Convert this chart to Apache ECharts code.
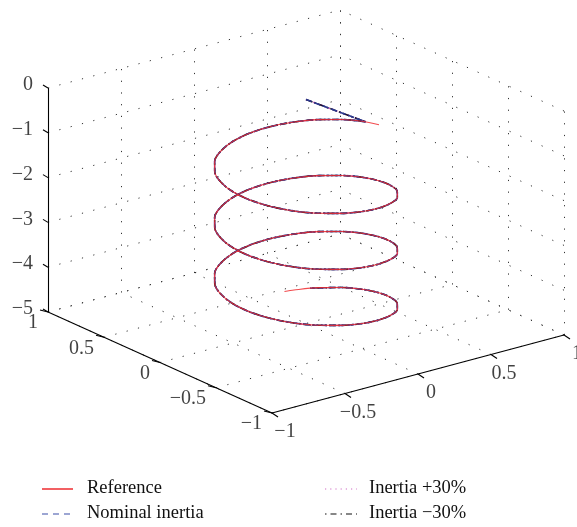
<!DOCTYPE html>
<html>
<head>
<meta charset="utf-8">
<script src="https://cdn.jsdelivr.net/npm/echarts@6/dist/echarts.min.js"></script>
<style>
html,body{margin:0;padding:0;background:#fff;}
#chart{width:577px;height:527px;}
</style>
</head>
<body>
<div id="chart"></div>
<script>
// ---- data ----
const xTicks = [-1, -0.5, 0, 0.5, 1];
const yTicks = [-1, -0.5, 0, 0.5, 1];
const zTicks = [0, -1, -2, -3, -4, -5];
const xTickLabels = ['\u22121', '\u22120.5', '0', '0.5', '1'];
const yTickLabels = ['\u22121', '\u22120.5', '0', '0.5', '1'];
const zTickLabels = ['0', '\u22121', '\u22122', '\u22123', '\u22124', '\u22125'];

// Reference helix samples (15 degree steps)
const refX = [
  0.5,0.483,0.433,0.354,0.25,0.129,0,-0.129,-0.25,-0.354,-0.433,-0.483,-0.5,-0.483,-0.433,-0.354,-0.25,-0.129,0,0.129,0.25,0.354,0.433,0.483,
  0.5,0.483,0.433,0.354,0.25,0.129,0,-0.129,-0.25,-0.354,-0.433,-0.483,-0.5,-0.483,-0.433,-0.354,-0.25,-0.129,0,0.129,0.25,0.354,0.433,0.483,
  0.5,0.483,0.433,0.354,0.25,0.129,0,-0.129,-0.25,-0.354,-0.433,-0.483,-0.5,-0.483,-0.433,-0.354,-0.25,-0.129,0,0.129,0.25,0.354,0.433,0.483,
  0.5,0.483,0.433,0.354,0.25,0.203];
const refY = [
  0,0.129,0.25,0.354,0.433,0.483,0.5,0.483,0.433,0.354,0.25,0.129,0,-0.129,-0.25,-0.354,-0.433,-0.483,-0.5,-0.483,-0.433,-0.354,-0.25,-0.129,
  0,0.129,0.25,0.354,0.433,0.483,0.5,0.483,0.433,0.354,0.25,0.129,0,-0.129,-0.25,-0.354,-0.433,-0.483,-0.5,-0.483,-0.433,-0.354,-0.25,-0.129,
  0,0.129,0.25,0.354,0.433,0.483,0.5,0.483,0.433,0.354,0.25,0.129,0,-0.129,-0.25,-0.354,-0.433,-0.483,-0.5,-0.483,-0.433,-0.354,-0.25,-0.129,
  0,0.129,0.25,0.354,0.433,0.457];
const refZ = [
  -1.000,-1.052,-1.104,-1.156,-1.208,-1.260,-1.313,-1.365,-1.417,-1.469,-1.521,-1.573,
  -1.625,-1.677,-1.729,-1.781,-1.833,-1.885,-1.938,-1.990,-2.042,-2.094,-2.146,-2.198,
  -2.250,-2.302,-2.354,-2.406,-2.458,-2.510,-2.563,-2.615,-2.667,-2.719,-2.771,-2.823,
  -2.875,-2.927,-2.979,-3.031,-3.083,-3.135,-3.188,-3.240,-3.292,-3.344,-3.396,-3.448,
  -3.500,-3.552,-3.604,-3.656,-3.708,-3.760,-3.813,-3.865,-3.917,-3.969,-4.021,-4.073,
  -4.125,-4.177,-4.229,-4.281,-4.333,-4.385,-4.438,-4.490,-4.542,-4.594,-4.646,-4.698,
  -4.750,-4.802,-4.854,-4.906,-4.958,-4.979];

// Tracked trajectories (the three inertia cases overlap in the picture)
const trkX = [
  0,0.489,0.433,0.354,0.25,0.129,0,-0.129,-0.25,-0.354,-0.433,-0.483,-0.5,-0.483,-0.433,-0.354,-0.25,-0.129,0,0.129,0.25,0.354,0.433,0.483,
  0.5,0.483,0.433,0.354,0.25,0.129,0,-0.129,-0.25,-0.354,-0.433,-0.483,-0.5,-0.483,-0.433,-0.354,-0.25,-0.129,0,0.129,0.25,0.354,0.433,0.483,
  0.5,0.483,0.433,0.354,0.25,0.129,0,-0.129,-0.25,-0.354,-0.433,-0.483,-0.5,-0.483,-0.433,-0.354,-0.25,-0.129,0,0.129,0.25,0.354,0.433,0.483,
  0.5,0.483,0.433,0.321];
const trkY = [
  0,0.104,0.25,0.354,0.433,0.483,0.5,0.483,0.433,0.354,0.25,0.129,0,-0.129,-0.25,-0.354,-0.433,-0.483,-0.5,-0.483,-0.433,-0.354,-0.25,-0.129,
  0,0.129,0.25,0.354,0.433,0.483,0.5,0.483,0.433,0.354,0.25,0.129,0,-0.129,-0.25,-0.354,-0.433,-0.483,-0.5,-0.483,-0.433,-0.354,-0.25,-0.129,
  0,0.129,0.25,0.354,0.433,0.483,0.5,0.483,0.433,0.354,0.25,0.129,0,-0.129,-0.25,-0.354,-0.433,-0.483,-0.5,-0.483,-0.433,-0.354,-0.25,-0.129,
  0,0.129,0.25,0.383];
const trkZ = [
  0,-1.042,-1.104,-1.156,-1.208,-1.260,-1.313,-1.365,-1.417,-1.469,-1.521,-1.573,
  -1.625,-1.677,-1.729,-1.781,-1.833,-1.885,-1.938,-1.990,-2.042,-2.094,-2.146,-2.198,
  -2.250,-2.302,-2.354,-2.406,-2.458,-2.510,-2.563,-2.615,-2.667,-2.719,-2.771,-2.823,
  -2.875,-2.927,-2.979,-3.031,-3.083,-3.135,-3.188,-3.240,-3.292,-3.344,-3.396,-3.448,
  -3.500,-3.552,-3.604,-3.656,-3.708,-3.760,-3.813,-3.865,-3.917,-3.969,-4.021,-4.073,
  -4.125,-4.177,-4.229,-4.281,-4.333,-4.385,-4.438,-4.490,-4.542,-4.594,-4.646,-4.698,
  -4.750,-4.802,-4.854,-4.924];

const legendNames = ['Reference', 'Nominal inertia', 'Inertia +30%', 'Inertia \u221230%'];

// ---- projection (orthographic, MATLAB default 3-D view) ----
const O = [272, 413];           // screen position of (-1,-1,-5)
const EX = [146, -39];          // per unit x
const EY = [-112, -50.5];       // per unit y
const EZ = [0, -44.8];          // per unit z
function proj(x, y, z) {
  return [O[0] + EX[0]*(x+1) + EY[0]*(y+1) + EZ[0]*(z+5),
          O[1] + EX[1]*(x+1) + EY[1]*(y+1) + EZ[1]*(z+5)];
}
function seg(a, b) { return { coords: [proj(a[0],a[1],a[2]), proj(b[0],b[1],b[2])] }; }

// dotted grid lines on the three back planes
const gridSegs = [];
xTicks.forEach(v => { gridSegs.push(seg([v,-1,-5],[v,1,-5])); gridSegs.push(seg([v,1,-5],[v,1,0])); });
yTicks.forEach(v => { gridSegs.push(seg([-1,v,-5],[1,v,-5])); gridSegs.push(seg([1,v,-5],[1,v,0])); });
zTicks.forEach(v => { gridSegs.push(seg([-1,1,v],[1,1,v])); gridSegs.push(seg([1,-1,v],[1,1,v])); });

// solid axes
const axisSegs = [
  seg([-1,1,-5],[-1,1,0]),
  seg([-1,-1,-5],[-1,1,-5]),
  seg([-1,-1,-5],[1,-1,-5])
];
// tick marks
const tickSegs = [];
zTicks.forEach(v => { const p = proj(-1,1,v); tickSegs.push({coords:[p,[p[0]-5,p[1]-3]]}); });
yTicks.forEach(v => { const p = proj(-1,v,-5); tickSegs.push({coords:[p,[p[0]-8,p[1]-2]]}); });
xTicks.forEach(v => { const p = proj(v,-1,-5); tickSegs.push({coords:[p,[p[0]+6,p[1]+4]]}); });

const FONT = "'Liberation Serif','DejaVu Serif',serif";
const zLab = zTicks.map((v,i) => { const p = proj(-1,1,v); return [p[0]-15, p[1]-3, zTickLabels[i]]; });
const yLab = yTicks.map((v,i) => { const p = proj(-1,v,-5); return [p[0]-10, p[1]+11, yTickLabels[i]]; });
const xLab = xTicks.map((v,i) => { const p = proj(v,-1,-5); return [p[0]+13, p[1]+19, xTickLabels[i]]; });

function labelSeries(data, align) {
  return {
    type: 'scatter', data: data, symbolSize: 0, silent: true,
    label: { show: true, position: [0,0], formatter: p => p.value[2], align: align,
             verticalAlign: 'middle', fontFamily: FONT, fontSize: 20, color: '#111' }
  };
}
function traj(X, Y, Z) { return X.map((x,i) => proj(x, Y[i], Z[i])); }

const chart = echarts.init(document.getElementById('chart'), null, {renderer:'canvas'});
chart.setOption({
  animation: false,
  backgroundColor: '#ffffff',
  grid: { left: 0, right: 0, top: 0, bottom: 0 },
  xAxis: { type: 'value', min: 0, max: 577, show: false },
  yAxis: { type: 'value', min: 0, max: 527, inverse: true, show: false },
  series: [
    { type: 'lines', coordinateSystem: 'cartesian2d', silent: true, data: gridSegs,
      lineStyle: { color: '#333', width: 1, type: [1.2, 10.5], opacity: 1 } },
    { type: 'lines', coordinateSystem: 'cartesian2d', silent: true, data: axisSegs.concat(tickSegs),
      lineStyle: { color: '#000', width: 1.1, type: 'solid', opacity: 1 } },
    labelSeries(zLab, 'right'),
    labelSeries(yLab, 'right'),
    labelSeries(xLab, 'center'),
    { name: legendNames[2], type: 'line', data: traj(trkX, trkY, trkZ), symbol: 'none', smooth: 0.3,
      lineStyle: { color: '#b43aa8', width: 1.6, type: [1.5, 2.5] } },
    { name: legendNames[3], type: 'line', data: traj(trkX, trkY, trkZ), symbol: 'none', smooth: 0.3,
      lineStyle: { color: '#1a1030', width: 1.6, type: [7, 2, 2, 2] } },
    { name: legendNames[1], type: 'line', data: traj(trkX, trkY, trkZ), symbol: 'none', smooth: 0.3,
      lineStyle: { color: '#2b3a8f', width: 1.6, type: [6, 3] } },
    { name: legendNames[0], type: 'line', data: traj(refX, refY, refZ), symbol: 'none', smooth: 0.3,
      lineStyle: { color: '#ee2b2f', width: 1.1, opacity: 0.85 } }
  ],
  graphic: [
    { type: 'line', shape: {x1:42,y1:489,x2:73,y2:489}, style: {stroke:'#ee2b2f', lineWidth:1.5} },
    { type: 'line', shape: {x1:42,y1:514,x2:73,y2:514}, style: {stroke:'#3b4fa8', lineWidth:1.2, lineDash:[6,5]} },
    { type: 'line', shape: {x1:325,y1:489,x2:357,y2:489}, style: {stroke:'#d06cc4', lineWidth:1.2, lineDash:[1.2,4]} },
    { type: 'line', shape: {x1:325,y1:514,x2:357,y2:514}, style: {stroke:'#111', lineWidth:1.2, lineDash:[1.5,4,6,4]} },
    { type: 'text', style: { text: legendNames[0], x: 87, y: 488, font: "18.5px " + FONT, fill: '#111', textVerticalAlign: 'middle' } },
    { type: 'text', style: { text: legendNames[1], x: 87, y: 513, font: "18.5px " + FONT, fill: '#111', textVerticalAlign: 'middle' } },
    { type: 'text', style: { text: legendNames[2], x: 369, y: 488, font: "18.5px " + FONT, fill: '#111', textVerticalAlign: 'middle' } },
    { type: 'text', style: { text: legendNames[3], x: 369, y: 513, font: "18.5px " + FONT, fill: '#111', textVerticalAlign: 'middle' } }
  ]
});
</script>
</body>
</html>
